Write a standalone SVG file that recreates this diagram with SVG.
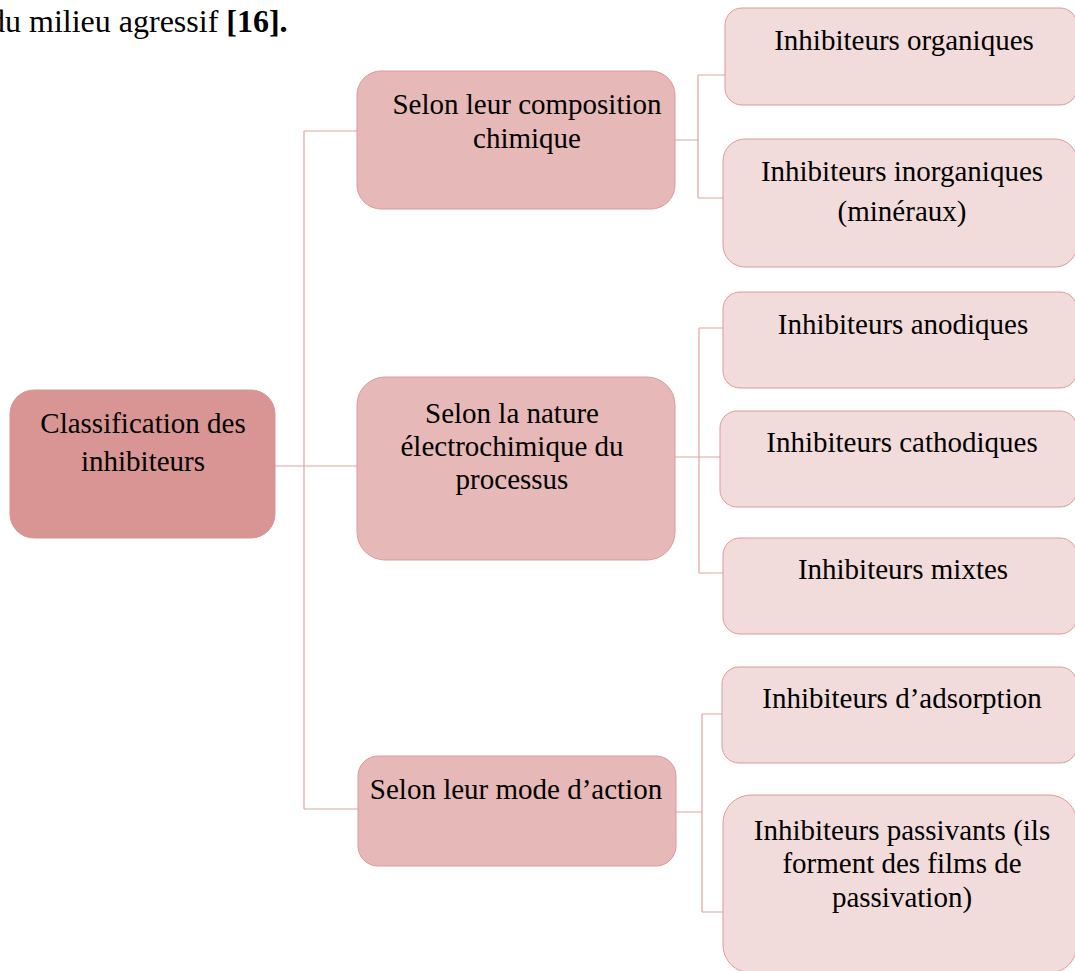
<svg xmlns="http://www.w3.org/2000/svg" width="1075" height="971" viewBox="0 0 1075 971">
<style>
text{font-family:"Liberation Serif","Times New Roman",serif;font-size:29px;fill:#000;text-anchor:middle}
.hdr{text-anchor:start;font-size:32px}
.root{fill:#d99594;stroke:#d99594;stroke-width:1}
.mid{fill:#e6b8b7;stroke:#dd9a99;stroke-width:1}
.leaf{fill:#f2dcdb;stroke:#dd9a99;stroke-width:1}
.con{fill:none;stroke:#e0a3a2;stroke-width:1.2}
</style>
<rect width="1075" height="971" fill="#fff"/>
<text class="hdr" x="-11" y="32">du milieu agressif <tspan font-weight="bold">[16].</tspan></text>
<g id="connectors">
<path class="con" d="M275 466H358M304 131V809M304 131H357M304 809H358"/>
<path class="con" d="M675 140H698M698 75V198M698 75H725M698 198H723"/>
<path class="con" d="M675 457H721M699 328V573M699 328H723M699 573H723"/>
<path class="con" d="M676 812H702M702 714V912M702 714H722M702 912H723"/>
</g>
<g id="root">
<rect class="root" x="10" y="390" width="265" height="148" rx="24"/>
<text x="143" y="433">Classification des</text>
<text x="143" y="471">inhibiteurs</text>
</g>
<g id="composition">
<rect class="mid" x="357" y="71" width="318" height="138" rx="24"/>
<text x="527" y="114">Selon leur composition</text>
<text x="527" y="148">chimique</text>
</g>
<g id="electrochimique">
<rect class="mid" x="357" y="377" width="318" height="183" rx="28"/>
<text x="512" y="423">Selon la nature</text>
<text x="512" y="456">électrochimique du</text>
<text x="512" y="489">processus</text>
</g>
<g id="mode">
<rect class="mid" x="358" y="756" width="318" height="110" rx="20"/>
<text x="516" y="799">Selon leur mode d’action</text>
</g>
<g id="organiques">
<rect class="leaf" x="725" y="8" width="352" height="97" rx="17"/>
<text x="904" y="50">Inhibiteurs organiques</text>
</g>
<g id="inorganiques">
<rect class="leaf" x="723" y="139" width="354" height="128" rx="22"/>
<text x="902" y="181">Inhibiteurs inorganiques</text>
<text x="902" y="221">(minéraux)</text>
</g>
<g id="anodiques">
<rect class="leaf" x="723" y="292" width="354" height="96" rx="17"/>
<text x="903" y="334">Inhibiteurs anodiques</text>
</g>
<g id="cathodiques">
<rect class="leaf" x="720" y="411" width="357" height="96" rx="17"/>
<text x="902" y="452">Inhibiteurs cathodiques</text>
</g>
<g id="mixtes">
<rect class="leaf" x="723" y="538" width="354" height="96" rx="17"/>
<text x="903" y="579">Inhibiteurs mixtes</text>
</g>
<g id="adsorption">
<rect class="leaf" x="722" y="667" width="355" height="96" rx="17"/>
<text x="902" y="708">Inhibiteurs d’adsorption</text>
</g>
<g id="passivants">
<rect class="leaf" x="723" y="795" width="354" height="178" rx="28"/>
<text x="902" y="840">Inhibiteurs passivants (ils</text>
<text x="902" y="873">forment des films de</text>
<text x="902" y="907">passivation)</text>
</g>
</svg>
